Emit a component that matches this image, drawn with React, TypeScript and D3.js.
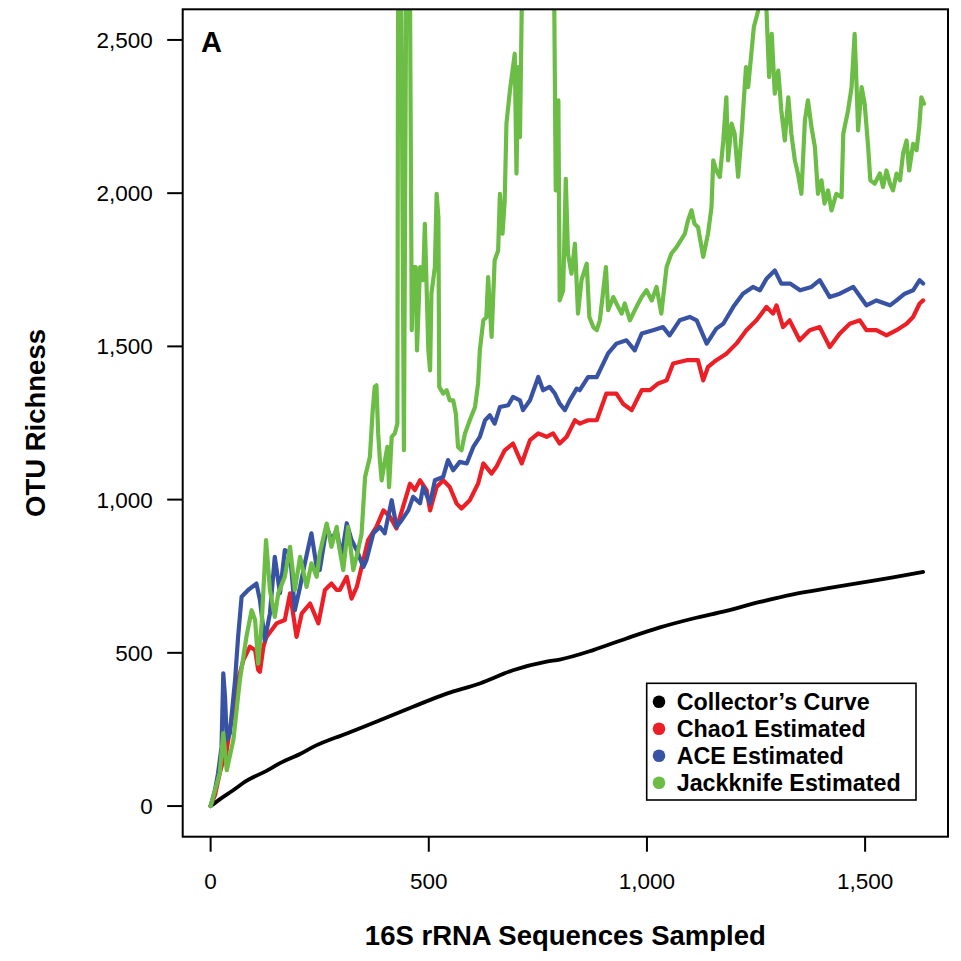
import * as d3 from "d3";

// rarefaction data: [sequences sampled, OTU richness]
const collectors: [number, number][] = [
  [0, 0], [20, 21], [50, 50], [82, 82], [128, 115], [159, 140], [205, 170], [235, 193],
  [312, 237], [388, 280], [464, 324], [541, 367], [617, 400], [693, 443], [770, 471],
  [800, 478], [877, 509], [953, 547], [1030, 583], [1106, 612], [1182, 637], [1259, 666],
  [1335, 691], [1412, 710], [1488, 728], [1564, 746], [1633, 764],
];

const chao1: [number, number][] = [
  [0, 0], [10, 36], [21, 108], [26, 134], [35, 166], [44, 248], [56, 346], [63, 411],
  [67, 433], [75, 476], [90, 520], [102, 509], [109, 444], [113, 438], [121, 520], [128, 552],
  [151, 596], [170, 607], [182, 694], [197, 552], [209, 629], [228, 661], [247, 596], [262, 705],
  [277, 726], [289, 705], [296, 705], [312, 748], [323, 677], [335, 715], [346, 780], [361, 868],
  [380, 911], [396, 965], [411, 944], [426, 906], [441, 976], [457, 1052], [468, 1031], [480, 1063],
  [495, 1031], [503, 965], [518, 1041], [533, 1063], [548, 1041], [564, 987], [575, 971], [594, 998],
  [613, 1052], [625, 1118], [644, 1085], [655, 1107], [674, 1161], [693, 1183], [713, 1118], [732, 1194],
  [751, 1216], [770, 1205], [785, 1216], [800, 1183], [816, 1205], [835, 1259], [846, 1248], [865, 1259],
  [885, 1259], [907, 1346], [930, 1346], [945, 1313], [965, 1292], [988, 1357], [1007, 1357], [1026, 1379],
  [1045, 1389], [1060, 1444], [1091, 1455], [1117, 1455], [1129, 1389], [1140, 1433], [1159, 1455],
  [1182, 1476], [1205, 1509], [1228, 1553], [1251, 1585], [1274, 1629], [1289, 1607], [1297, 1634],
  [1312, 1563], [1327, 1585], [1350, 1520], [1373, 1553], [1396, 1563], [1419, 1498], [1442, 1542],
  [1465, 1574], [1488, 1585], [1503, 1553], [1526, 1553], [1549, 1536], [1572, 1553], [1595, 1574],
  [1610, 1596], [1625, 1640], [1633, 1650],
];

const ace: [number, number][] = [
  [0, 0], [10, 52], [17, 107], [25, 193], [29, 433], [33, 357], [37, 215], [44, 237], [56, 411],
  [63, 552], [71, 683], [86, 705], [105, 726], [113, 672], [124, 541], [136, 629], [147, 813],
  [159, 695], [170, 835], [182, 825], [193, 639], [205, 715], [216, 793], [231, 890], [243, 780],
  [250, 770], [266, 911], [277, 868], [289, 900], [300, 813], [312, 923], [323, 868], [335, 835],
  [350, 780], [357, 802], [373, 890], [388, 911], [399, 890], [415, 998], [426, 911], [438, 933],
  [453, 965], [464, 1009], [480, 988], [487, 1041], [503, 988], [514, 1063], [533, 1074], [544, 1129],
  [556, 1096], [571, 1123], [587, 1118], [602, 1172], [617, 1205], [629, 1259], [640, 1275], [651, 1248],
  [663, 1302], [682, 1308], [693, 1335], [709, 1324], [716, 1292], [732, 1324], [751, 1400], [762, 1357],
  [777, 1368], [789, 1346], [800, 1313], [812, 1292], [823, 1324], [839, 1362], [846, 1357], [865, 1400],
  [885, 1400], [911, 1477], [930, 1509], [953, 1520], [972, 1487], [988, 1542], [1014, 1553], [1037, 1563],
  [1052, 1536], [1075, 1585], [1098, 1596], [1114, 1585], [1137, 1509], [1159, 1558], [1175, 1574],
  [1198, 1629], [1220, 1672], [1243, 1694], [1259, 1683], [1274, 1721], [1293, 1748], [1308, 1705],
  [1328, 1705], [1351, 1683], [1377, 1694], [1396, 1716], [1419, 1661], [1442, 1672], [1473, 1694],
  [1503, 1634], [1526, 1650], [1557, 1634], [1572, 1650], [1591, 1672], [1610, 1683], [1625, 1716],
  [1633, 1705],
];

const jackknife: [number, number][] = [
  [0, 0], [21, 108], [29, 238], [37, 117], [52, 215], [67, 411], [82, 552], [94, 639], [102, 607],
  [109, 465], [117, 596], [127, 868], [136, 705], [147, 617], [155, 694], [170, 748], [182, 846],
  [193, 705], [205, 813], [220, 715], [231, 792], [243, 748], [250, 824], [266, 922], [277, 846],
  [289, 911], [292, 868], [304, 770], [315, 911], [327, 770], [338, 835], [346, 890], [354, 1074],
  [365, 1139], [371, 1281], [376, 1368], [380, 1373], [384, 1216], [388, 1129], [392, 1063], [397, 1107],
  [405, 1172], [409, 1041], [415, 1205], [422, 1216], [428, 1248], [430, 2900], [436, 2900], [443, 1161],
  [449, 2900], [456, 2900], [461, 1553], [464, 1759], [470, 1759], [473, 1487], [480, 1759], [487, 1716],
  [491, 1900], [495, 1694], [499, 1487], [503, 1422], [506, 1672], [514, 1759], [518, 1998], [522, 1922],
  [524, 1368], [533, 1346], [541, 1357], [548, 1324], [556, 1324], [562, 1281], [567, 1172], [575, 1161],
  [583, 1216], [594, 1259], [606, 1302], [613, 1379], [617, 1487], [625, 1585], [632, 1596], [636, 1726],
  [644, 1531], [651, 1781], [659, 1813], [663, 1998], [669, 1868], [674, 1976], [678, 2227], [686, 2335],
  [690, 2379], [697, 2455], [701, 2064], [705, 2411], [709, 2183], [713, 2600], [718, 2900], [786, 2900],
  [791, 2009], [797, 2303], [800, 1650], [808, 1683], [814, 2047], [819, 1803], [827, 1737], [835, 1835],
  [842, 1607], [850, 1716], [862, 1770], [868, 1596], [877, 1563], [885, 1553], [892, 1585], [900, 1683],
  [906, 1759], [911, 1618], [923, 1661], [930, 1640], [942, 1607], [949, 1640], [961, 1585], [976, 1629],
  [988, 1661], [999, 1683], [1011, 1650], [1022, 1694], [1033, 1607], [1045, 1759], [1056, 1803],
  [1068, 1824], [1087, 1868], [1094, 1911], [1102, 1944], [1109, 1900], [1117, 1889], [1129, 1792],
  [1140, 1868], [1148, 1955], [1152, 2107], [1159, 2074], [1167, 2053], [1175, 2172], [1182, 2313],
  [1186, 2107], [1194, 2227], [1201, 2194], [1209, 2053], [1217, 2194], [1227, 2411], [1232, 2346],
  [1240, 2466], [1245, 2542], [1251, 2574], [1255, 2596], [1262, 2680], [1270, 2680], [1274, 2596],
  [1280, 2379], [1286, 2520], [1293, 2325], [1301, 2400], [1308, 2270], [1316, 2172], [1324, 2313],
  [1331, 2194], [1339, 2107], [1346, 2064], [1354, 1998], [1362, 2237], [1369, 2303], [1377, 2216],
  [1385, 2150], [1392, 1998], [1400, 2042], [1407, 1966], [1415, 2009], [1423, 1944], [1434, 1998],
  [1446, 1987], [1450, 2194], [1461, 2270], [1469, 2346], [1476, 2520], [1480, 2368], [1484, 2205],
  [1492, 2346], [1499, 2292], [1507, 2150], [1512, 2042], [1522, 2031], [1534, 2064], [1541, 2020],
  [1549, 2074], [1557, 2031], [1564, 2009], [1572, 2064], [1580, 2042], [1587, 2129], [1595, 2172],
  [1601, 2074], [1610, 2161], [1618, 2140], [1624, 2216], [1629, 2313], [1635, 2292],
];

const seriesNames = ["Collector’s Curve", "Chao1 Estimated", "ACE Estimated", "Jackknife Estimated"];
const seriesColors = ["#000000", "#EC1F26", "#3953A4", "#6CBD45"];
const xTicks = [0, 500, 1000, 1500];
const yTicks = [0, 500, 1000, 1500, 2000, 2500];

const font = "'Liberation Sans', Arial, Helvetica, sans-serif";

export default function App() {
  const left = 182.7, right = 948, top = 9.3, bottom = 836.7;
  const x = d3.scaleLinear().domain([-64, 1690]).range([left, right]);
  const y = d3.scaleLinear().domain([-100, 2600]).range([bottom, top]);
  const fmt = d3.format(",");

  const line = d3
    .line<[number, number]>()
    .x((d) => x(d[0]))
    .y((d) => y(d[1]));
  // collector's curve is smooth
  const smooth = d3
    .line<[number, number]>()
    .x((d) => x(d[0]))
    .y((d) => y(d[1]))
    .curve(d3.curveMonotoneX);

  const series = [collectors, chao1, ace, jackknife];

  return (
    <svg
      width={961}
      height={961}
      style={{ position: "absolute", left: 0, top: 0, background: "#fff" }}
      fontFamily={font}
    >
      <defs>
        <clipPath id="plot">
          <rect x={left} y={top} width={right - left} height={bottom - top} />
        </clipPath>
      </defs>

      <g clipPath="url(#plot)">
        {series.map((s, i) => (
          <path
            key={i}
            d={(i === 0 ? smooth(s) : line(s)) ?? ""}
            fill="none"
            stroke={seriesColors[i]}
            strokeWidth={i === 0 ? 3.8 : 4.2}
            strokeLinejoin="round"
            strokeLinecap="round"
          />
        ))}
      </g>

      <rect
        x={left}
        y={top}
        width={right - left}
        height={bottom - top}
        fill="none"
        stroke="black"
        strokeWidth={2}
      />

      {/* y axis */}
      {yTicks.map((t) => (
        <g key={t}>
          <line x1={left - 15.5} x2={left} y1={y(t)} y2={y(t)} stroke="black" strokeWidth={2} />
          <text x={left - 30} y={y(t) + 8} textAnchor="end" fontSize={22.5}>
            {fmt(t)}
          </text>
        </g>
      ))}

      {/* x axis */}
      {xTicks.map((t) => (
        <g key={t}>
          <line x1={x(t)} x2={x(t)} y1={bottom} y2={bottom + 15} stroke="black" strokeWidth={2} />
          <text x={x(t)} y={889} textAnchor="middle" fontSize={22.5}>
            {fmt(t)}
          </text>
        </g>
      ))}

      <text x={(left + right) / 2} y={945} textAnchor="middle" fontSize={27.5} fontWeight="bold">
        16S rRNA Sequences Sampled
      </text>
      <text
        transform={`translate(45, ${(top + bottom) / 2}) rotate(-90)`}
        textAnchor="middle"
        fontSize={27.5}
        fontWeight="bold"
      >
        OTU Richness
      </text>

      <text x={201} y={51.7} fontSize={29} fontWeight="bold">
        A
      </text>

      {/* legend */}
      <rect x={646.7} y={683.3} width={269.3} height={116.7} fill="white" stroke="black" strokeWidth={1.6} />
      {seriesNames.map((name, i) => (
        <g key={name}>
          <circle cx={659} cy={701.7 + i * 27} r={6.3} fill={seriesColors[i]} />
          <text x={676.7} y={701.7 + i * 27 + 8.3} fontSize={23.3} fontWeight="bold">
            {name}
          </text>
        </g>
      ))}
    </svg>
  );
}
